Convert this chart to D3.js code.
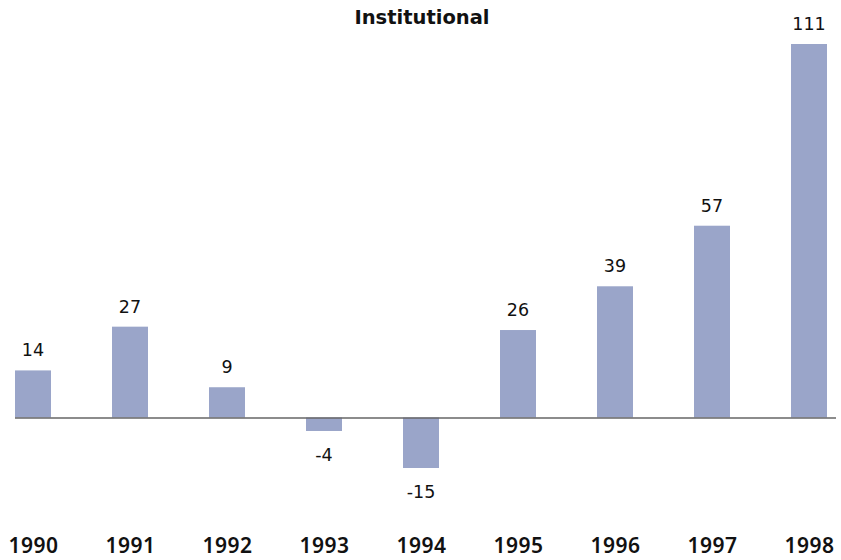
<!DOCTYPE html>
<html>
<head>
<meta charset="utf-8">
<script src="https://cdn.jsdelivr.net/npm/d3@7"></script>
<style>
  body { margin: 0; background: #fff; }
  svg { display: block; }
</style>
</head>
<body>
<div id="chart"></div>
<script>
var years = ["1990", "1991", "1992", "1993", "1994", "1995", "1996", "1997", "1998"];
var values = [14, 27, 9, -4, -15, 26, 39, 57, 111];
var title = "Institutional";

var width = 841, height = 560;

var svg = d3.select("#chart").append("svg")
  .attr("width", width)
  .attr("height", height);

// bar centres run from 33 to 809
var xScale = d3.scalePoint()
  .domain(years)
  .range([33, 809]);
var barW = xScale.step() * 0.371;

var yScale = d3.scaleLinear()
  .domain([-15, 111])
  .range([468, 44]);

var data = years.map(function (y, i) { return { year: y, value: values[i] }; });

svg.append("text")
  .attr("x", 422)
  .attr("y", 24)
  .attr("text-anchor", "middle")
  .attr("font-family", "'DejaVu Sans', sans-serif")
  .attr("font-weight", "bold")
  .attr("font-size", "19.5px")
  .attr("fill", "#111")
  .text(title);

svg.selectAll(".bar").data(data).enter()
  .append("rect")
  .attr("class", "bar")
  .attr("x", function (d) { return xScale(d.year) - barW / 2; })
  .attr("width", barW)
  .attr("y", function (d) { return yScale(Math.max(0, d.value)); })
  .attr("height", function (d) { return Math.abs(yScale(d.value) - yScale(0)); })
  .attr("fill", "#9aa5c9");

// zero line
svg.append("line")
  .attr("x1", 15)
  .attr("x2", 836)
  .attr("y1", yScale(0) + 0.5)
  .attr("y2", yScale(0) + 0.5)
  .attr("stroke", "#666")
  .attr("stroke-width", 1.5);

svg.selectAll(".val").data(data).enter()
  .append("text")
  .attr("class", "val")
  .attr("x", function (d) { return xScale(d.year); })
  .attr("y", function (d) { return d.value >= 0 ? yScale(d.value) - 14 : yScale(d.value) + 30; })
  .attr("text-anchor", "middle")
  .attr("font-family", "'DejaVu Sans', sans-serif")
  .attr("font-size", "17.5px")
  .attr("fill", "#111")
  .text(function (d) { return d.value; });

// year labels
var xAxis = d3.axisBottom(xScale).tickSize(0).tickPadding(0);
var axisG = svg.append("g")
  .attr("transform", "translate(0,538)")
  .call(xAxis);
axisG.select(".domain").remove();
axisG.selectAll("text")
  .attr("font-family", "'Noto Sans', sans-serif")
  .attr("font-weight", "600")
  .attr("font-size", "21px")
  .attr("letter-spacing", "0.5px")
  .attr("fill", "#111")
  .attr("dy", "0.71em");
</script>
</body>
</html>
